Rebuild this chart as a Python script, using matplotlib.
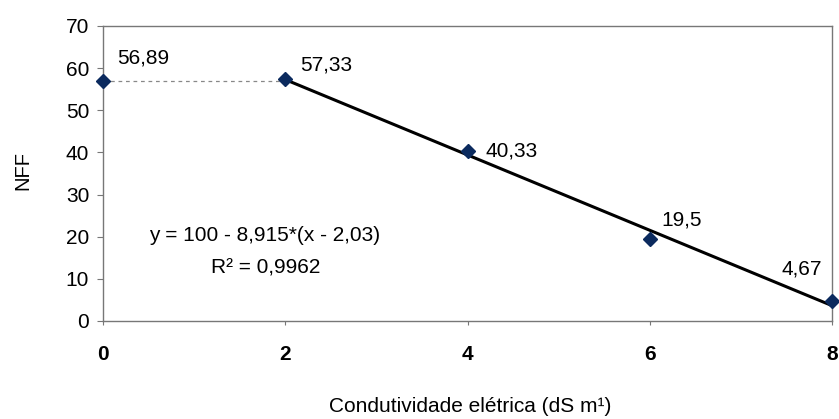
"""NFF versus electrical conductivity, with plateau + linear decrease fit."""

import matplotlib.pyplot as plt
import numpy as np

plt.rcParams["font.family"] = ["Liberation Sans", "DejaVu Sans"]

# Condutividade elétrica (dS m-1) and NFF
ce = [0, 2, 4, 6, 8]
nff = [56.89, 57.33, 40.33, 19.5, 4.67]
labels = ["56,89", "57,33", "40,33", "19,5", "4,67"]

# plateau level and start of the decreasing segment
plateau = 56.89
x_break = 2.0

# (dx, dy) in points and horizontal alignment for each value label
label_offsets = [(10, 16.5, "left"), (11, 10.5, "left"), (13, 0, "left"),
                 (8.5, 13.5, "left"), (-7, 23, "right")]

fig = plt.figure(figsize=(8.39, 4.19), dpi=100)
ax = fig.add_axes([0.1228, 0.234, 0.8689, 0.704])

# linear fit over the decreasing part
x_fit = np.array(ce[1:], dtype=float)
y_fit = np.array(nff[1:], dtype=float)
slope, intercept = np.polyfit(x_fit, y_fit, 1)
xs = np.array([x_break, ce[-1]])
ax.plot(xs, slope * xs + intercept, color="black", lw=2.2, zorder=2)

ax.plot([ce[0], x_break], [plateau, plateau], color="#888888",
        lw=0.9, ls=(0, (3, 3)), zorder=1)

ax.plot(ce, nff, ls="none", marker="D", ms=7.2, color="#0b2a5e",
        mec="#0b2a5e", zorder=3, clip_on=False)

for x, y, txt, (dx, dy, ha) in zip(ce, nff, labels, label_offsets):
    ax.annotate(txt, (x, y), xytext=(dx, dy), textcoords="offset points",
                fontsize=15, va="center", ha=ha)

ax.text(1.77, 20.2, "y = 100 - 8,915*(x - 2,03)", fontsize=15,
        ha="center", va="center")
ax.text(1.78, 12.6, "R² = 0,9962", fontsize=15, ha="center", va="center")

ax.set_xlim(0, 8)
ax.set_ylim(0, 70)
ax.set_xticks([0, 2, 4, 6, 8])
ax.set_yticks(range(0, 71, 10))

for side in ax.spines.values():
    side.set_color("#777777")
    side.set_linewidth(1.0)

ax.tick_params(axis="y", direction="out", length=4, color="#777777",
               labelsize=15, pad=6)
ax.tick_params(axis="x", direction="out", length=3, color="#777777",
               labelsize=15, pad=14)
for t in ax.get_xticklabels():
    t.set_fontweight("bold")

fig.text(23 / 839, 1 - 170 / 419, "NFF", fontsize=14.5, rotation=90,
         ha="center", va="center")
fig.text(470 / 839, 1 - 406 / 419, "Condutividade elétrica (dS m¹)",
         fontsize=15, ha="center", va="center")

fig.savefig("out.png", dpi=100)
